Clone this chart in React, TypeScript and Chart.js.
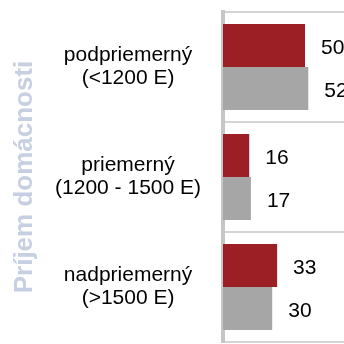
import React, { useEffect, useRef } from "react";
import { Chart, registerables } from "chart.js";

Chart.register(...registerables);

const categories: string[][] = [
  ["podpriemerný", "(<1200 E)"],
  ["priemerný", "(1200 - 1500 E)"],
  ["nadpriemerný", "(>1500 E)"],
];
const seriesRed: number[] = [50, 16, 33];
const seriesGray: number[] = [52, 17, 30];
const seriesNames: string[] = ["Séria 1", "Séria 2"];
const axisTitle = "Príjem domácnosti";

const FONT = "'Liberation Sans', Arial, Helvetica, sans-serif";

const valueLabels = {
  id: "valueLabels",
  afterDatasetsDraw(chart: any) {
    const ctx = chart.ctx;
    ctx.save();
    ctx.font = `21px ${FONT}`;
    ctx.fillStyle = "#000000";
    ctx.textAlign = "left";
    ctx.textBaseline = "middle";
    chart.data.datasets.forEach((ds: any, i: number) => {
      const meta = chart.getDatasetMeta(i);
      meta.data.forEach((bar: any, j: number) => {
        ctx.fillText(String(ds.data[j]), bar.x + 16, bar.y + 2.5);
      });
    });
    ctx.restore();
  },
};

export default function App() {
  const ref = useRef<HTMLCanvasElement | null>(null);

  useEffect(() => {
    if (!ref.current) return;
    const chart = new Chart(ref.current, {
      type: "bar",
      data: {
        labels: categories,
        datasets: [
          {
            label: seriesNames[0],
            data: seriesRed,
            backgroundColor: "#9c1f26",
            borderWidth: 0,
            categoryPercentage: 0.78,
            barPercentage: 1.0,
          },
          {
            label: seriesNames[1],
            data: seriesGray,
            backgroundColor: "#a6a6a6",
            borderWidth: 0,
            categoryPercentage: 0.78,
            barPercentage: 1.0,
          },
        ],
      },
      options: {
        indexAxis: "y",
        responsive: false,
        animation: false,
        devicePixelRatio: 1,
        layout: { padding: { top: 12, bottom: 2, left: 0, right: 0 } },
        plugins: {
          legend: { display: false },
          tooltip: { enabled: false },
          title: { display: false },
        },
        scales: {
          x: {
            display: false,
            min: 0,
            max: 100,
          },
          y: {
            afterFit: (s: any) => {
              s.width = 223;
              s.paddingTop = 0;
              s.paddingBottom = 0;
            },
            grid: {
              color: "#d4d4d4",
              lineWidth: 2,
              drawTicks: false,
              offset: true,
            },
            border: { display: true, color: "#c6c6c6", width: 4 },
            ticks: {
              crossAlign: "center",
              padding: 22,
              color: "#000000",
              font: { family: FONT, size: 21, lineHeight: 1.1 },
            },
            title: {
              display: true,
              text: axisTitle,
              color: "#c6d0e2",
              font: { family: FONT, size: 26, weight: "bold", lineHeight: 1.2 },
              padding: { top: 9, bottom: 0 },
            },
          },
        },
      },
      plugins: [valueLabels],
    });
    return () => chart.destroy();
  }, []);

  return (
    <div
      style={{
        position: "fixed",
        left: 0,
        top: 0,
        width: 344,
        height: 344,
        overflow: "hidden",
        background: "#ffffff",
      }}
    >
      <div style={{ position: "absolute", left: 0, top: 0, width: 387, height: 344 }}>
        <canvas ref={ref} width={387} height={344} style={{ display: "block" }} />
      </div>
    </div>
  );
}
